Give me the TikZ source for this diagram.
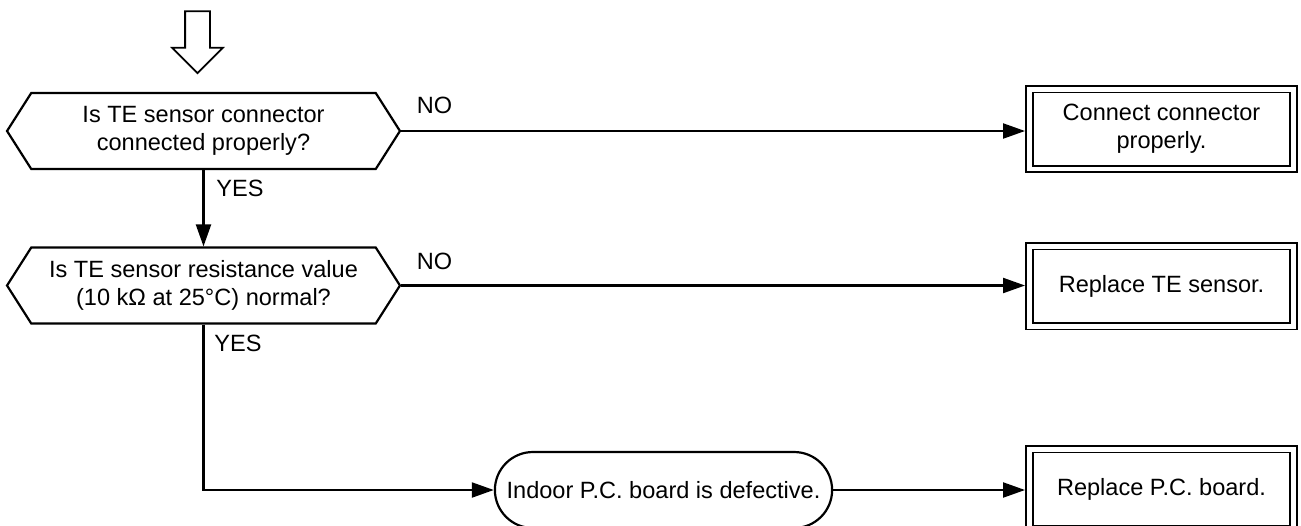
\documentclass[tikz,border=0pt]{standalone}
\usepackage{fontspec}
\setmainfont{Liberation Sans}
\usetikzlibrary{positioning, shapes.symbols, shapes.misc, shapes.arrows, arrows.meta}
\newcommand{\flowfont}{\fontsize{13.4}{15.8}\selectfont}
\tikzset{
  query/.style={
    signal, signal to=west and east, signal pointer angle=115,
    draw, line width=1.25pt,
    minimum width=7.86cm, minimum height=1.52cm,
    inner sep=0pt, align=center, font=\flowfont
  },
  remedy/.style={
    rectangle, draw, double, double distance=0.1cm,
    line width=1pt,
    minimum width=5.28cm, minimum height=1.6cm,
    outer sep=0.09cm, align=center, font=\flowfont
  },
  verdict/.style={
    rounded rectangle, draw, line width=1.25pt,
    minimum width=6.98cm, minimum height=1.52cm,
    align=center, font=\flowfont
  },
  entry/.style={
    single arrow, draw, line width=1pt, fill=white,
    shape border rotate=270,
    minimum height=1.24cm, inner sep=0.23cm,
    single arrow head extend=0.26cm, single arrow tip angle=90,
    single arrow head indent=0pt
  },
  flowarrow/.style={
    -{Triangle[length=0.44cm, width=0.3cm]}, line width=1.25pt
  },
  answer/.style={font=\flowfont, inner sep=0pt}
}

\begin{document}
\begin{tikzpicture}[x=0.02cm, y=-0.02cm]
  \useasboundingbox (0,0) rectangle (1301,525);
  \node[entry] (start) at (197.5,36) {};
  \node[query] (q1) at (203.5,131) {Is TE sensor connector\\connected properly?};
  \node[query] (q2) at (203.5,285.5) {Is TE sensor resistance value\\(10 kΩ at 25°C) normal?};
  \node[remedy] (fix1) at (1161.5,129) {Connect connector\\properly.};
  \node[remedy] (fix2) at (1161.5,286) {Replace TE sensor.};
  \node[verdict] (board) at (663.5,490) {Indoor P.C. board is defective.};
  \node[remedy] (fix3) at (1161.5,489) {Replace P.C. board.};
  % answers
  \node[answer] (no1) at (434.5,105.5) {NO};
  \node[answer] (yes1) at (240,188.5) {YES};
  \node[answer] (no2) at (434.5,261) {NO};
  \node[answer] (yes2) at (238,343.5) {YES};
  % connectors
  \draw[flowarrow] (q1.east) -- (q1.east -| fix1.west);
  \draw[flowarrow] (q1.south) -- (q2.north);
  \draw[flowarrow] (q2.east) -- (q2.east -| fix2.west);
  \draw[flowarrow] (q2.south) |- (board.west);
  \draw[flowarrow] (board.east) -- (board.east -| fix3.west);
\end{tikzpicture}
\end{document}
